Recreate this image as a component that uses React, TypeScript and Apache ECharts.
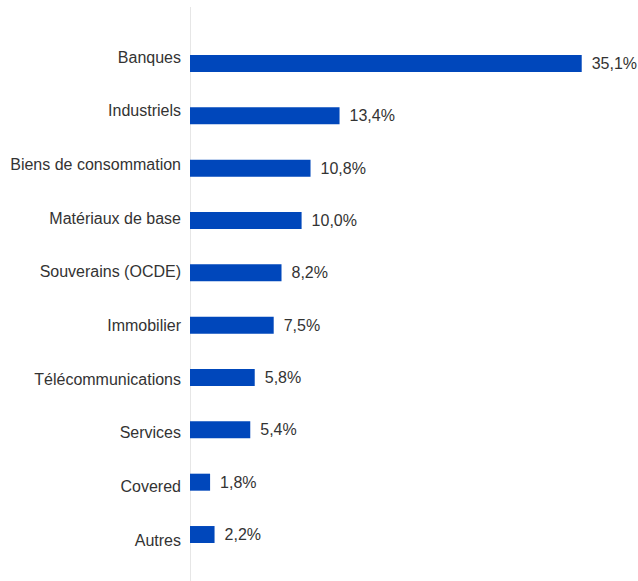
import React, { useEffect, useRef } from "react";
import * as echarts from "echarts";

const categories = [
  "Banques",
  "Industriels",
  "Biens de consommation",
  "Matériaux de base",
  "Souverains (OCDE)",
  "Immobilier",
  "Télécommunications",
  "Services",
  "Covered",
  "Autres",
];
const values = [35.1, 13.4, 10.8, 10.0, 8.2, 7.5, 5.8, 5.4, 1.8, 2.2];

const fmt = (v: number) => v.toFixed(1).replace(".", ",") + "%";
const FONT = "Liberation Sans, Arial, sans-serif";

export default function App() {
  const ref = useRef<HTMLDivElement>(null);
  useEffect(() => {
    if (!ref.current) return;
    const chart = echarts.init(ref.current, null, { renderer: "svg" });
    chart.setOption({
      animation: false,
      backgroundColor: "#ffffff",
      textStyle: { fontFamily: FONT },
      grid: [
        { left: 190, top: 37.3, width: 446.4, height: 523.4, containLabel: false },
        { left: 190, top: 30.2, width: 10, height: 536.7, containLabel: false },
      ],
      xAxis: [
        { type: "value", min: 0, max: 40, show: false, gridIndex: 0 },
        { type: "value", min: 0, max: 1, show: false, gridIndex: 1 },
      ],
      yAxis: [
        {
          type: "category",
          gridIndex: 0,
          data: categories,
          inverse: true,
          axisLine: { show: false },
          axisTick: { show: false },
          axisLabel: { show: false },
        },
        {
          type: "category",
          gridIndex: 1,
          data: categories,
          inverse: true,
          axisLine: { show: false },
          axisTick: { show: false },
          axisLabel: {
            margin: 9,
            fontSize: 16,
            color: "#333333",
            fontFamily: FONT,
          },
        },
      ],
      graphic: [
        {
          type: "line",
          shape: { x1: 190.5, y1: 7, x2: 190.5, y2: 581 },
          style: { stroke: "#e6e6e6", lineWidth: 1 },
          z: 0,
        },
      ],
      series: [
        {
          type: "bar",
          xAxisIndex: 0,
          yAxisIndex: 0,
          data: values,
          barWidth: 17,
          itemStyle: { color: "#0047BB" },
          label: {
            show: true,
            position: "right",
            distance: 10,
            fontSize: 16,
            color: "#333333",
            fontFamily: FONT,
            formatter: (p: any) => fmt(p.value),
          },
          z: 2,
        },
      ],
    });
    return () => chart.dispose();
  }, []);
  return (
    <div
      ref={ref}
      style={{ position: "fixed", left: 0, top: 0, width: 638, height: 581 }}
    />
  );
}
